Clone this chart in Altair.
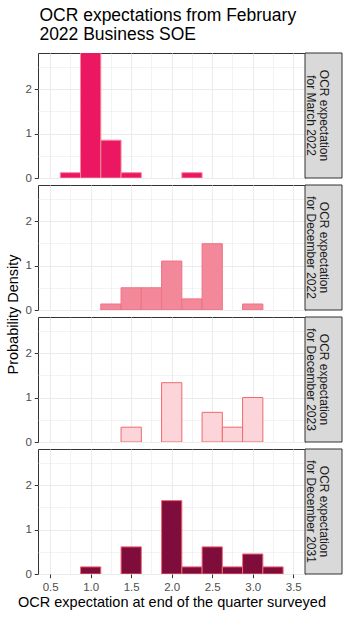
import altair as alt
import pandas as pd

FONT = "Liberation Sans"

TITLE = ["OCR expectations from February", " 2022 Business SOE"]
X_TITLE = "OCR expectation at end of the quarter surveyed"
Y_TITLE = "Probability Density"
BIN_WIDTH = 0.25

panel_labels = [
    "OCR expectation\nfor March 2022",
    "OCR expectation\nfor December 2022",
    "OCR expectation\nfor December 2023",
    "OCR expectation\nfor December 2031",
]

mar22_centers = [0.75, 1.0, 1.25, 1.5, 2.25]
mar22_density = [0.12, 2.87, 0.85, 0.12, 0.12]

dec22_centers = [1.25, 1.5, 1.75, 2.0, 2.25, 2.5, 3.0]
dec22_density = [0.135, 0.5, 0.5, 1.1, 0.25, 1.49, 0.135]

dec23_centers = [1.5, 2.0, 2.5, 2.75, 3.0]
dec23_density = [0.333, 1.333, 0.667, 0.333, 1.0]

dec31_centers = [1.0, 1.5, 2.0, 2.25, 2.5, 2.75, 3.0, 3.25]
dec31_density = [0.16, 0.61, 1.65, 0.16, 0.61, 0.16, 0.45, 0.16]

x_tick_values = [0.5, 0.75, 1.0, 1.25, 1.5, 1.75, 2.0, 2.25, 2.5, 2.75, 3.0, 3.25, 3.5]
y_tick_values = [0, 0.5, 1, 1.5, 2, 2.5]

fills = ["#EC1763", "#F2889A", "#FBD5D9", "#7E0D3B"]
strokes = ["#F58A98", "#EE7384", "#F06A6A", "#F26872"]

series = [
    (mar22_centers, mar22_density),
    (dec22_centers, dec22_density),
    (dec23_centers, dec23_density),
    (dec31_centers, dec31_density),
]

W, H, SW = 267, 125, 37


def make_panel(i):
    centers, dens = series[i]
    df = pd.DataFrame({"center": centers, "density": dens})
    df["lo"] = df["center"] - BIN_WIDTH / 2
    df["hi"] = df["center"] + BIN_WIDTH / 2
    last = i == 3
    minor_x = "datum.value % 0.5 !== 0"
    xaxis = alt.Axis(
        values=x_tick_values,
        title=X_TITLE if last else None,
        labels=last,
        ticks=last,
        domain=False,
        format=".1f",
        labelExpr="datum.value % 0.5 === 0 ? datum.label : ''",
        labelOverlap=False,
        labelFlush=False,
        labelFontSize=11.5,
        labelColor="#4D4D4D",
        labelPadding=3.5,
        tickSize=3.7,
        tickColor={"condition": {"test": minor_x, "value": "transparent"}, "value": "#333333"},
        gridColor="#EBEBEB",
        gridWidth={"condition": {"test": minor_x, "value": 0.6}, "value": 1},
        titleFontSize=14.5,
        titleFontWeight="normal",
        titleColor="#000000",
        titlePadding=3,
    )
    minor_y = "datum.value % 1 !== 0"
    yargs = dict(
        values=y_tick_values,
        domain=False,
        format=".0f",
        labelExpr="datum.value % 1 === 0 ? datum.label : ''",
        labelOverlap=False,
        labelFlush=False,
        labelFontSize=11.5,
        labelColor="#4D4D4D",
        labelPadding=3,
        tickSize=3.7,
        tickColor={"condition": {"test": minor_y, "value": "transparent"}, "value": "#333333"},
        gridColor="#EBEBEB",
        gridWidth={"condition": {"test": minor_y, "value": 0.6}, "value": 1},
    )
    if i == 1:
        yaxis = alt.Axis(
            title=Y_TITLE,
            titleFontSize=14.5,
            titleFontWeight="normal",
            titleColor="#000000",
            titleY=H + 4,
            titleAlign="center",
            titlePadding=4,
            **yargs,
        )
    else:
        yaxis = alt.Axis(title=None, **yargs)

    bars = alt.Chart(df).mark_rect(
        fill=fills[i], stroke=strokes[i], strokeWidth=1, clip=True
    ).encode(
        x=alt.X("lo:Q", scale=alt.Scale(domain=[0.35, 3.645], nice=False, zero=False), axis=xaxis),
        x2="hi:Q",
        y=alt.Y("density:Q", scale=alt.Scale(domain=[0, 2.81], nice=False), axis=yaxis),
        y2=alt.datum(0),
    )

    sdf = pd.DataFrame({"label": [panel_labels[i]]})
    rect = alt.Chart(sdf).mark_rect(fill="#D9D9D9", stroke="#333333", strokeWidth=1).encode(
        x=alt.value(W), x2=alt.value(W + SW), y=alt.value(0), y2=alt.value(H)
    )
    txt = alt.Chart(sdf).mark_text(
        angle=90, lineBreak="\n", fontSize=12, lineHeight=13, color="#1A1A1A",
        font=FONT, align="center", baseline="middle"
    ).encode(x=alt.value(W + SW / 2), y=alt.value(H / 2), text="label:N")
    return alt.layer(bars, rect, txt).properties(width=W, height=H)


chart = alt.vconcat(*[make_panel(i) for i in range(4)], spacing=7, bounds="flush").properties(
    title=alt.TitleParams(
        text=TITLE, anchor="start", frame="bounds", dx=34, fontSize=17.5, fontWeight="normal",
        font=FONT, color="#000000", lineHeight=19, offset=9
    ),
    padding={"left": 5, "right": 5, "top": 6, "bottom": 5},
).configure(font=FONT).configure_view(stroke="#333333", strokeWidth=1).configure_axis(
    labelFont=FONT, titleFont=FONT
)

chart.save("out.html", embed_options={"renderer": "svg", "actions": False})
